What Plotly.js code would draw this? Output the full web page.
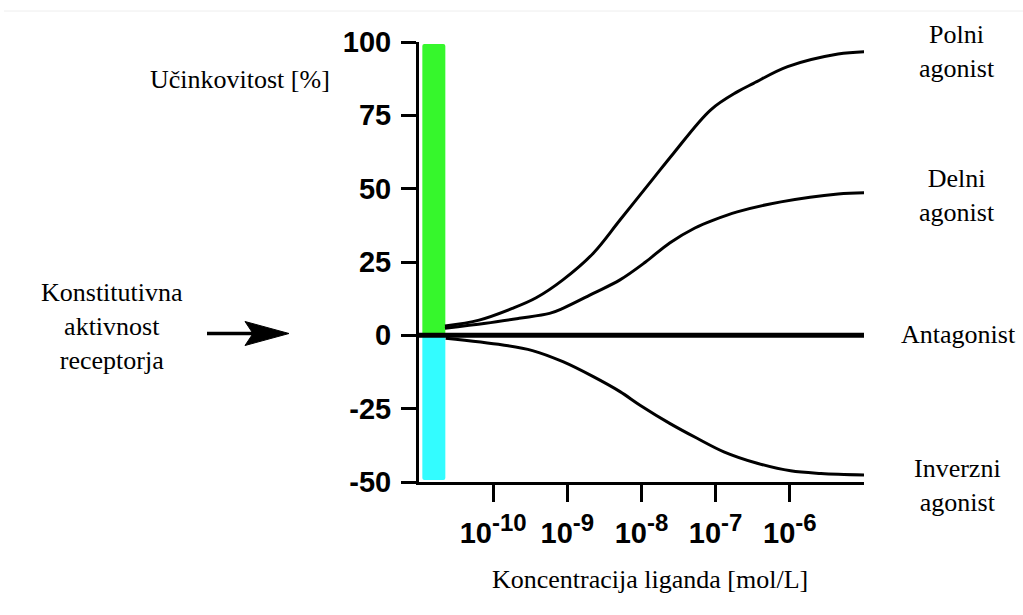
<!DOCTYPE html>
<html>
<head>
<meta charset="utf-8">
<script src="https://cdn.plot.ly/plotly-3.0.1.min.js"></script>
<style>html,body{margin:0;padding:0;background:#fff;}#chart{width:1023px;height:615px;}</style>
</head>
<body>
<div id="chart"></div>
<script>
// log10 of ligand concentration (mol/L) and efficacy (%)
const polniLogC   = [-10.65, -10.19, -9.74, -9.42, -9.06, -8.65, -8.29, -7.84, -7.57, -7.07, -6.71, -6.49, -6.03, -5.35, -4.99];
const polniEff    = [3.2, 5.2, 9.2, 12.8, 18.9, 28.0, 39.3, 53.5, 62.0, 76.8, 83.0, 85.9, 91.6, 95.9, 96.7];
const delniLogC   = [-10.65, -10.10, -9.65, -9.24, -9.06, -8.65, -8.29, -7.95, -7.62, -7.28, -7.03, -6.71, -6.12, -5.35, -4.99];
const delniEff    = [2.4, 4.1, 5.8, 7.5, 9.2, 14.3, 18.9, 24.9, 31.5, 36.6, 39.3, 42.1, 45.5, 48.2, 48.6];
const antagLogC   = [-11, -5];
const antagEff    = [0, 0];
const inverzLogC  = [-10.64, -9.87, -9.47, -9.06, -8.65, -8.29, -8.02, -7.62, -7.25, -6.89, -6.44, -5.99, -5.58, -5.0];
const inverzEff   = [-1.0, -3.3, -5.2, -9.0, -14.1, -19.2, -23.8, -30.0, -35.1, -39.7, -43.6, -46.2, -47.1, -47.6];
// constitutive activity bars
const barLogC     = [-10.8];
const barPositive = [99.3];
const barNegative = [-49.3];
// axis ticks
const xTickVals   = [-10, -9, -8, -7, -6];
const xTickExp    = ['-10', '-9', '-8', '-7', '-6'];
const yTickVals   = [-50, -25, 0, 25, 50, 75, 100];
const yTickText   = ['-50', '-25', '0', '25', '50', '75', '100'];
// labels
const curveLabels = [['Polni', 'agonist'], ['Delni', 'agonist'], ['Antagonist'], ['Inverzni', 'agonist']];
const leftLabel   = ['Konstitutivna', 'aktivnost', 'receptorja'];
const yTitle      = 'Učinkovitost [%]';
const xTitle      = 'Koncentracija liganda [mol/L]';

// plot-area geometry (pixels)
const L = 419, R = 864, T = 42, B = 482;
const px = x => (x - L) / (R - L);
const py = y => (B - y) / (B - T);

const serif = {family: 'Liberation Serif, Times New Roman, serif', size: 26, color: '#000'};
const sansBold = {family: 'Liberation Sans, Arial, sans-serif', size: 29, color: '#000', weight: 'bold'};

const xTickText = xTickExp.map(e => '10<sup><span style="font-size:24px">' + e + '</span></sup>');

const lineStyle = {color: '#000', width: 3, shape: 'spline', smoothing: 1};
const traces = [
  {type: 'scatter', mode: 'lines', x: polniLogC, y: polniEff, line: lineStyle, hoverinfo: 'skip'},
  {type: 'scatter', mode: 'lines', x: delniLogC, y: delniEff, line: lineStyle, hoverinfo: 'skip'},
  {type: 'scatter', mode: 'lines', x: inverzLogC, y: inverzEff, line: lineStyle, hoverinfo: 'skip'},
  {type: 'bar', x: barLogC, y: barPositive, width: 0.31, marker: {color: '#36f72c', line: {width: 0}, cornerradius: 2}, hoverinfo: 'skip'},
  {type: 'bar', x: barLogC, y: barNegative, width: 0.31, marker: {color: '#33fcff', line: {width: 0}, cornerradius: 2}, hoverinfo: 'skip'},
  {type: 'scatter', mode: 'lines', x: antagLogC, y: antagEff, line: {color: '#000', width: 5}, hoverinfo: 'skip', cliponaxis: false}
];

const annotations = [];
function addLabel(lines, cx, cy) {
  annotations.push({
    text: lines.join('<br>'), xref: 'paper', yref: 'paper', x: px(cx), y: py(cy),
    xanchor: 'center', yanchor: 'middle', align: 'center', showarrow: false, font: serif
  });
}
addLabel(curveLabels[0], 957, 52);
addLabel(curveLabels[1], 957, 195);
addLabel(curveLabels[2], 958, 334);
addLabel(curveLabels[3], 957, 485);
addLabel(leftLabel, 112, 326);
addLabel([yTitle], 240, 79);
addLabel([xTitle], 650, 579);

const shapes = [
  {type: 'line', xref: 'paper', yref: 'paper', x0: px(4), x1: px(1023), y0: py(11), y1: py(11), line: {color: '#eeeeee', width: 1}},
  {type: 'line', xref: 'paper', yref: 'paper', x0: px(207), x1: px(254), y0: py(333.5), y1: py(333.5), line: {color: '#000', width: 3.5}},
  {type: 'path', xref: 'paper', yref: 'paper', fillcolor: '#000', line: {color: '#000', width: 1},
   path: `M ${px(289)} ${py(333.5)} L ${px(245)} ${py(321.5)} L ${px(253)} ${py(333.5)} L ${px(245)} ${py(345.5)} Z`}
];

const layout = {
  width: 1023, height: 615,
  margin: {l: L, r: 1023 - R, t: T, b: 615 - B, pad: 0},
  paper_bgcolor: '#fff', plot_bgcolor: '#fff',
  showlegend: false, barmode: 'overlay',
  xaxis: {range: [-11, -5], tickvals: xTickVals, ticktext: xTickText, ticks: 'outside', ticklen: 17, tickwidth: 3,
          tickcolor: '#000', showline: true, linewidth: 3, linecolor: '#000', showgrid: false, zeroline: false,
          tickfont: {family: sansBold.family, size: 29, color: '#000', weight: 'bold'}, ticklabelstandoff: 6, fixedrange: true},
  yaxis: {range: [-50, 100], tickvals: yTickVals, ticktext: yTickText, ticks: 'outside', ticklen: 15, tickwidth: 3,
          tickcolor: '#000', showline: true, linewidth: 3, linecolor: '#000', showgrid: false, zeroline: false,
          tickfont: sansBold, ticklabelstandoff: 4, fixedrange: true},
  annotations: annotations,
  shapes: shapes
};

Plotly.newPlot('chart', traces, layout, {displayModeBar: false, staticPlot: true});
</script>
</body>
</html>
